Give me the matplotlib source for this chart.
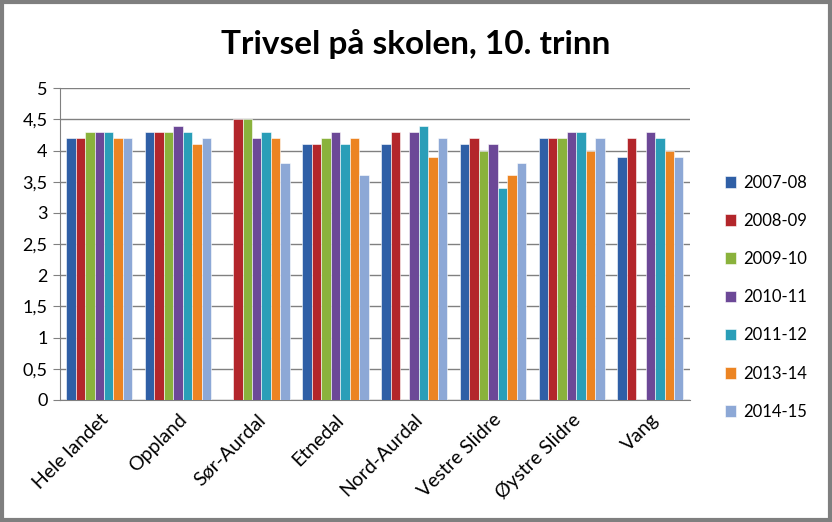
import numpy as np
import matplotlib.pyplot as plt
from matplotlib.patches import Rectangle

plt.rcParams["font.family"] = ["Lato", "DejaVu Sans"]

# data (nan = no bar)
categories = ["Hele landet", "Oppland", "Sør-Aurdal", "Etnedal", "Nord-Aurdal",
              "Vestre Slidre", "Øystre Slidre", "Vang"]
years = ["2007-08", "2008-09", "2009-10", "2010-11", "2011-12", "2013-14", "2014-15"]

v_2007_08 = [4.2, 4.3, np.nan, 4.1, 4.1, 4.1, 4.2, 3.9]
v_2008_09 = [4.2, 4.3, 4.5, 4.1, 4.3, 4.2, 4.2, 4.2]
v_2009_10 = [4.3, 4.3, 4.5, 4.2, np.nan, 4.0, 4.2, np.nan]
v_2010_11 = [4.3, 4.4, 4.2, 4.3, 4.3, 4.1, 4.3, 4.3]
v_2011_12 = [4.3, 4.3, 4.3, 4.1, 4.4, 3.4, 4.3, 4.2]
v_2013_14 = [4.2, 4.1, 4.2, 4.2, 3.9, 3.6, 4.0, 4.0]
v_2014_15 = [4.2, 4.2, 3.8, 3.6, 4.2, 3.8, 4.2, 3.9]

series = [v_2007_08, v_2008_09, v_2009_10, v_2010_11, v_2011_12, v_2013_14, v_2014_15]
colors = ["#2F5FA6", "#B3262B", "#8AB23C", "#6C4897", "#2A9EB8", "#EC8422", "#8DA8D6"]

fig = plt.figure(figsize=(8.32, 5.22), dpi=100)
ax = fig.add_axes([0.072, 0.234, 0.757, 0.597])

x = np.arange(len(categories))
n = len(series)
bw = 0.84 / n
for i, (vals, col) in enumerate(zip(series, colors)):
    ax.bar(x - 0.42 + bw * (i + 0.5), vals, width=bw, color=col,
           edgecolor="white", linewidth=0.4, label=years[i], zorder=3)

ax.set_xlim(-0.5, len(categories) - 0.5)
ax.set_ylim(0, 5)
ticks = np.arange(0, 5.01, 0.5)
ax.set_yticks(ticks)
ax.set_yticklabels([f"{t:g}".replace(".", ",") for t in ticks], fontsize=13)
ax.yaxis.grid(True, color="#808080", linewidth=1, zorder=0)
ax.set_xticks(x)
ax.set_xticklabels(categories, rotation=45, ha="right", rotation_mode="anchor", fontsize=14)
ax.tick_params(axis="x", length=0, pad=8)
ax.tick_params(axis="y", length=5, color="#808080", direction="out", pad=4)
for s in ["top", "right"]:
    ax.spines[s].set_visible(False)
ax.spines["left"].set_color("#808080")
ax.spines["bottom"].set_color("#808080")

fig.text(0.5, 0.915, "Trivsel på skolen, 10. trinn", ha="center", va="center",
         fontsize=24, fontweight="bold")

fig.legend(loc="upper left", bbox_to_anchor=(0.853, 0.694), frameon=False,
           fontsize=12, handlelength=0.7, handleheight=0.7, handletextpad=0.4,
           labelspacing=1.33)

# outer chart border
fig.patches.append(Rectangle((0.002, 0.003), 0.996, 0.994, transform=fig.transFigure,
                             fill=False, edgecolor="#7F7F7F", linewidth=3))

fig.savefig("out.png", dpi=100)
